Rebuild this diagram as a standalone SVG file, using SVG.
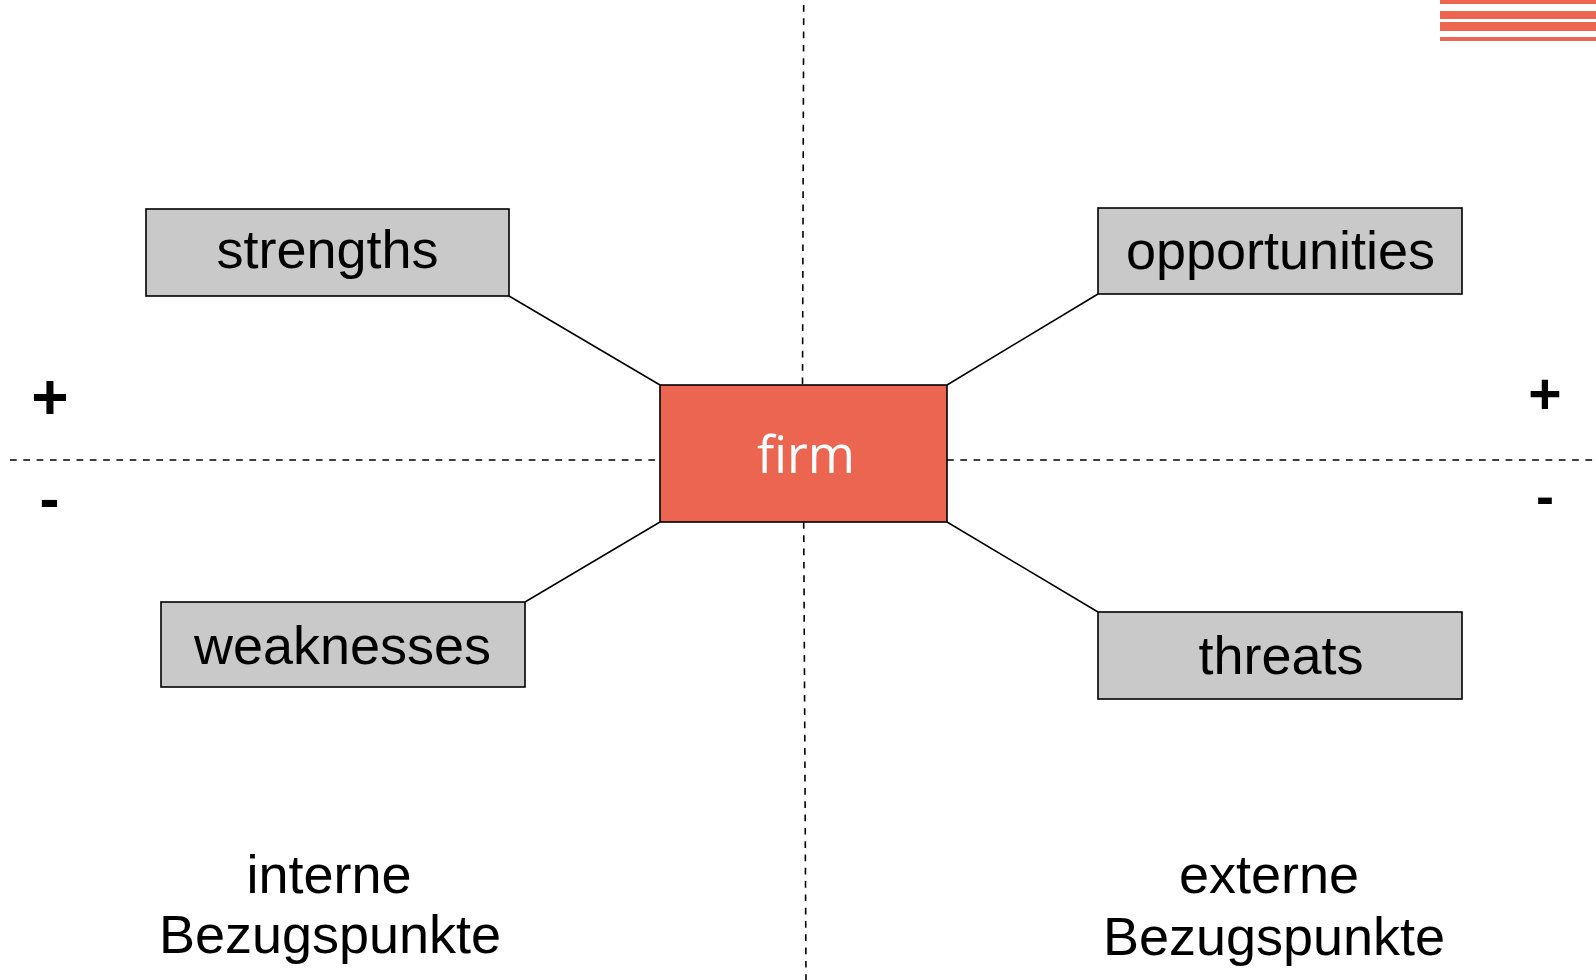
<svg xmlns="http://www.w3.org/2000/svg" width="1596" height="980" viewBox="0 0 1596 980">
  <style>
    .axis { stroke: #000; stroke-width: 1.6; stroke-dasharray: 6.7 6.6; fill: none; }
    .link { stroke: #000; stroke-width: 1.5; fill: none; }
    .box { fill: #C9C9C9; stroke: #000; stroke-width: 1.6; }
    .core { fill: #EC6550; stroke: #000; stroke-width: 1.6; }
    .label { font-family: "Liberation Sans", Arial, sans-serif; font-size: 54px; fill: #000; text-anchor: middle; }
    .core-label { font-family: "Open Sans", "Liberation Sans", sans-serif; font-size: 51px; fill: #fff; text-anchor: middle; }
    .sign { font-family: "Liberation Sans", Arial, sans-serif; font-weight: bold; fill: #000; text-anchor: middle; }
    .stripe { fill: #EC6550; }
  </style>

  <rect width="1596" height="980" fill="#fff"/>

  <!-- corner stripes -->
  <g id="stripes">
    <rect class="stripe" x="1440" y="0" width="156" height="4"/>
    <rect class="stripe" x="1440" y="11" width="156" height="8"/>
    <rect class="stripe" x="1440" y="22" width="156" height="9"/>
    <rect class="stripe" x="1440" y="37" width="156" height="4"/>
  </g>

  <!-- quadrant axes -->
  <g id="axes">
    <line class="axis" x1="10" y1="460" x2="660" y2="460"/>
    <line class="axis" x1="947" y1="460" x2="1596" y2="460"/>
    <line class="axis" x1="803.7" y1="5" x2="802.5" y2="385"/>
    <line class="axis" x1="803.7" y1="522" x2="806" y2="980"/>
  </g>

  <!-- connectors from the firm to the four factors -->
  <g id="connectors">
    <line class="link" x1="509" y1="296" x2="660" y2="385"/>
    <line class="link" x1="1098" y1="294" x2="947" y2="385"/>
    <line class="link" x1="525" y1="602" x2="660" y2="522"/>
    <line class="link" x1="1098" y1="612" x2="947" y2="522"/>
  </g>

  <g id="strengths">
    <rect class="box" x="146" y="209" width="363" height="87"/>
    <text class="label" x="327.5" y="268">strengths</text>
  </g>

  <g id="opportunities">
    <rect class="box" x="1098" y="208" width="364" height="86"/>
    <text class="label" x="1280.5" y="269">opportunities</text>
  </g>

  <g id="weaknesses">
    <rect class="box" x="161" y="602" width="364" height="85"/>
    <text class="label" x="342.5" y="664">weaknesses</text>
  </g>

  <g id="threats">
    <rect class="box" x="1098" y="612" width="364" height="87"/>
    <text class="label" x="1281" y="674">threats</text>
  </g>

  <g id="firm">
    <rect class="core" x="660" y="385" width="287" height="137"/>
    <text class="core-label" x="806" y="473">firm</text>
  </g>

  <!-- plus / minus markers -->
  <g id="signs">
    <text class="sign" x="50" y="419" font-size="64">+</text>
    <text class="sign" x="49.5" y="519" font-size="60">-</text>
    <text class="sign" x="1545" y="414" font-size="57">+</text>
    <text class="sign" x="1545" y="515" font-size="54">-</text>
  </g>

  <!-- bottom captions -->
  <g id="internal">
    <text class="label" x="329" y="893">interne</text>
    <text class="label" x="330" y="953">Bezugspunkte</text>
  </g>
  <g id="external">
    <text class="label" x="1269" y="893">externe</text>
    <text class="label" x="1274" y="955">Bezugspunkte</text>
  </g>
</svg>
